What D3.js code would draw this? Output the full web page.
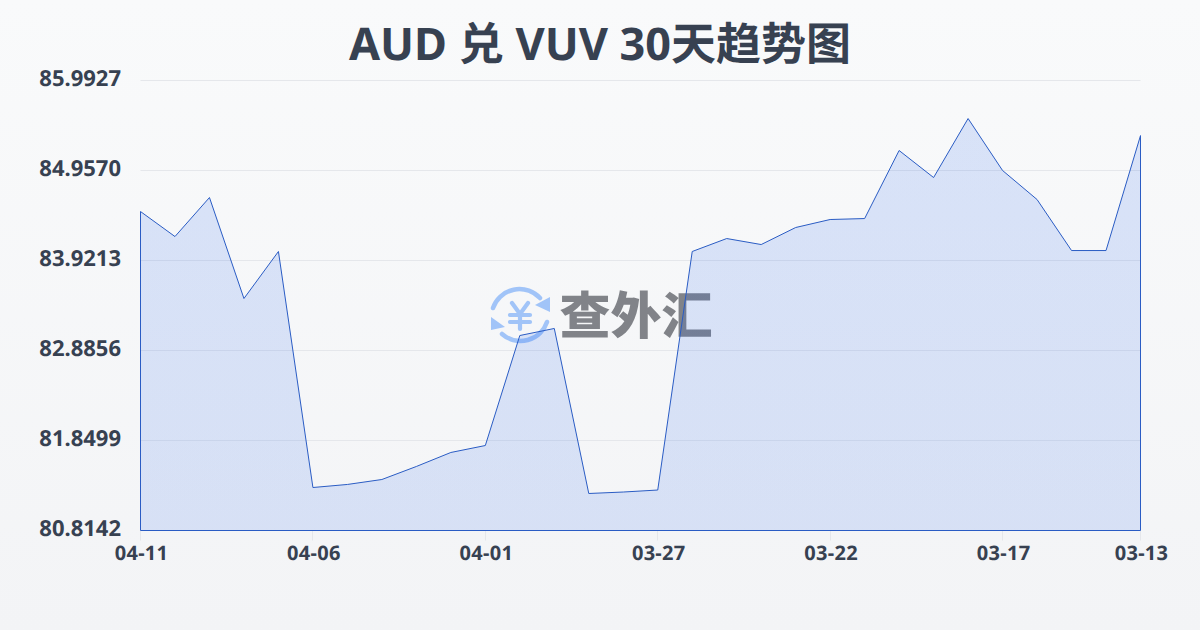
<!DOCTYPE html>
<html><head><meta charset="utf-8">
<style>html,body{margin:0;padding:0;width:1200px;height:630px;overflow:hidden}svg{display:block}text{text-rendering:geometricPrecision}</style>
<script src="https://cdn.jsdelivr.net/npm/d3@7/dist/d3.min.js"></script></head><body>
<script>
const titleText = "AUD 兑 VUV 30天趋势图";
const dates = ["04-11","04-10","04-09","04-08","04-07","04-06","04-05","04-04","04-03","04-02","04-01","03-31","03-30","03-29","03-28","03-27","03-26","03-25","03-24","03-23","03-22","03-21","03-20","03-19","03-18","03-17","03-16","03-15","03-14","03-13"];
const values = [84.485,84.197,84.646,83.484,84.025,81.309,81.344,81.401,81.551,81.712,81.792,83.058,83.139,81.240,81.257,81.280,84.025,84.174,84.105,84.301,84.393,84.404,85.187,84.876,85.555,84.957,84.623,84.036,84.036,85.359];
const yTicks = [80.8142,81.8499,82.8856,83.9213,84.9570,85.9927];
const xTickEvery = 5;
const M={l:140.5,r:1140.5,t:80.5,b:530.5};
const font='"Noto Sans","Noto Sans CJK SC",sans-serif';
const svg=d3.select("body").append("svg").attr("width",1200).attr("height",630);
const defs=svg.append("defs");
const bg=defs.append("linearGradient").attr("id","bg").attr("x1",0).attr("y1",0).attr("x2",0).attr("y2",1);
bg.append("stop").attr("offset",0).attr("stop-color","#f9fafb");
bg.append("stop").attr("offset",1).attr("stop-color","#f3f4f6");
const ag=defs.append("linearGradient").attr("id","ag").attr("x1",0).attr("y1",0).attr("x2",0).attr("y2",1);
ag.append("stop").attr("offset",0).attr("stop-color","#2563eb").attr("stop-opacity",0.15);
ag.append("stop").attr("offset",1).attr("stop-color","#2563eb").attr("stop-opacity",0.14);
svg.append("rect").attr("width",1200).attr("height",630).attr("fill","url(#bg)");
const x=d3.scalePoint().domain(dates).range([M.l,M.r]);
const y=d3.scaleLinear().domain([yTicks[0],yTicks[yTicks.length-1]]).range([M.b,M.t]);
svg.append("g").selectAll("line").data(yTicks).join("line")
 .attr("x1",M.l).attr("x2",M.r).attr("y1",d=>Math.floor(y(d))+0.5).attr("y2",d=>Math.floor(y(d))+0.5).attr("stroke","#e5e7eb").attr("stroke-width",1);
const xt=dates.filter((d,i)=>i%xTickEvery===0||i===dates.length-1);
svg.append("g").selectAll("line").data(xt).join("line")
 .attr("x1",d=>Math.floor(x(d))+0.5).attr("x2",d=>Math.floor(x(d))+0.5).attr("y1",M.b).attr("y2",M.b+10).attr("stroke","#e5e7eb");
// watermark
const wm=svg.append("g").attr("opacity",0.55);
const blue="#5c9bf8";
const ic=wm.append("g").attr("transform","translate(520,315)").attr("fill","none").attr("stroke",blue).attr("stroke-width",4.5);
ic.append("path").attr("d","M-27,-7 A28,28 0 0 1 20,-17").attr("stroke-linecap","round");
ic.append("path").attr("d","M27,7 A28,28 0 0 1 -18,19").attr("stroke-linecap","round");
ic.append("path").attr("d","M30,-18 L30,-3 L15,-10 Z").attr("fill",blue).attr("stroke","none");
ic.append("path").attr("d","M-29,2 L-29,15 L-15,12 Z").attr("fill",blue).attr("stroke","none");
ic.append("path").attr("d","M-8,-12 L0,-1 L8,-12 M0,-1 V14 M-10,0 H10 M-10,7 H10").attr("stroke-width",4.2).attr("stroke-linecap","round");
wm.append("text").attr("x",636).attr("y",334).attr("text-anchor","middle").attr("font-family",'"Noto Sans CJK SC"').attr("font-weight",900).attr("font-size",51).attr("fill","#22262e").text("查外汇");
// area and line
const pts=dates.map((d,i)=>[d,values[i]]);
svg.append("path").attr("d",d3.area().x(d=>x(d[0])).y0(M.b).y1(d=>y(d[1]))(pts)).attr("fill","url(#ag)");
const closed=[[dates[0],yTicks[0]],...pts,[dates[dates.length-1],yTicks[0]]];
svg.append("path").attr("d",d3.line().x(d=>x(d[0])).y(d=>y(d[1]))(closed)+"Z").attr("fill","none").attr("stroke","#2a5cc4").attr("stroke-width",1);
// labels
svg.append("g").selectAll("text").data(yTicks).join("text")
 .attr("x",121).attr("y",d=>y(d)+5).attr("text-anchor","end").attr("font-family",font).attr("font-weight",700).attr("font-size",22).attr("fill","#374151")
 .text(d=>d.toFixed(4));
svg.append("g").selectAll("text").data(xt).join("text")
 .attr("x",d=>x(d)+1).attr("y",560).attr("text-anchor","middle").attr("font-family",font).attr("font-weight",700).attr("font-size",20).attr("letter-spacing",0.3).attr("fill","#374151").text(d=>d);
svg.append("text").attr("x",600).attr("y",60).attr("text-anchor","middle").attr("font-family",font).attr("font-weight",700).attr("font-size",45).attr("fill","#374151").text(titleText);
</script></body></html>
